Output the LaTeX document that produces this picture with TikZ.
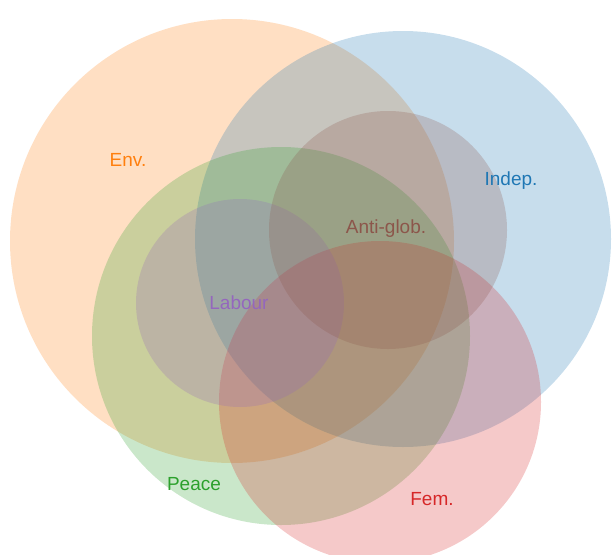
\documentclass[tikz,border=0pt]{standalone}
\usepackage{fontspec}
\setmainfont{Liberation Sans}
\definecolor{envcol}{HTML}{FF7F0E}
\definecolor{indepcol}{HTML}{1F77B4}
\definecolor{peacecol}{HTML}{2CA02C}
\definecolor{femcol}{HTML}{D62728}
\definecolor{labourcol}{HTML}{9467BD}
\definecolor{globcol}{HTML}{8C564B}
\tikzset{
  venn/.style={fill=#1, fill opacity=0.25},
  vlabel/.style={text=#1, font=\fontsize{19}{22}\selectfont, inner sep=0pt}
}
\begin{document}
\begin{tikzpicture}[x=1pt,y=-1pt]
    \clip (0,0) rectangle (612,554);
    % the six sets
    \fill[venn=envcol]    (232,241) circle (222pt);
    \fill[venn=indepcol]  (403,239) circle (208pt);
    \fill[venn=peacecol]  (281,336) circle (189pt);
    \fill[venn=femcol]    (380,402) circle (161pt);
    \fill[venn=labourcol] (240,303) circle (104pt);
    \fill[venn=globcol]   (388,230) circle (119pt);
    % labels for each set
    \node[vlabel=envcol]    (env)    at (128,160) {Env.};
    \node[vlabel=indepcol]  (indep)  at (511,181) {Indep.};
    \node[vlabel=globcol]   (glob)   at (386,229) {Anti-glob.};
    \node[vlabel=labourcol] (labour) at (239,303) {Labour};
    \node[vlabel=peacecol]  (peace)  at (194,484) {Peace};
    \node[vlabel=femcol]    (fem)    at (432,499) {Fem.};
\end{tikzpicture}
\end{document}
